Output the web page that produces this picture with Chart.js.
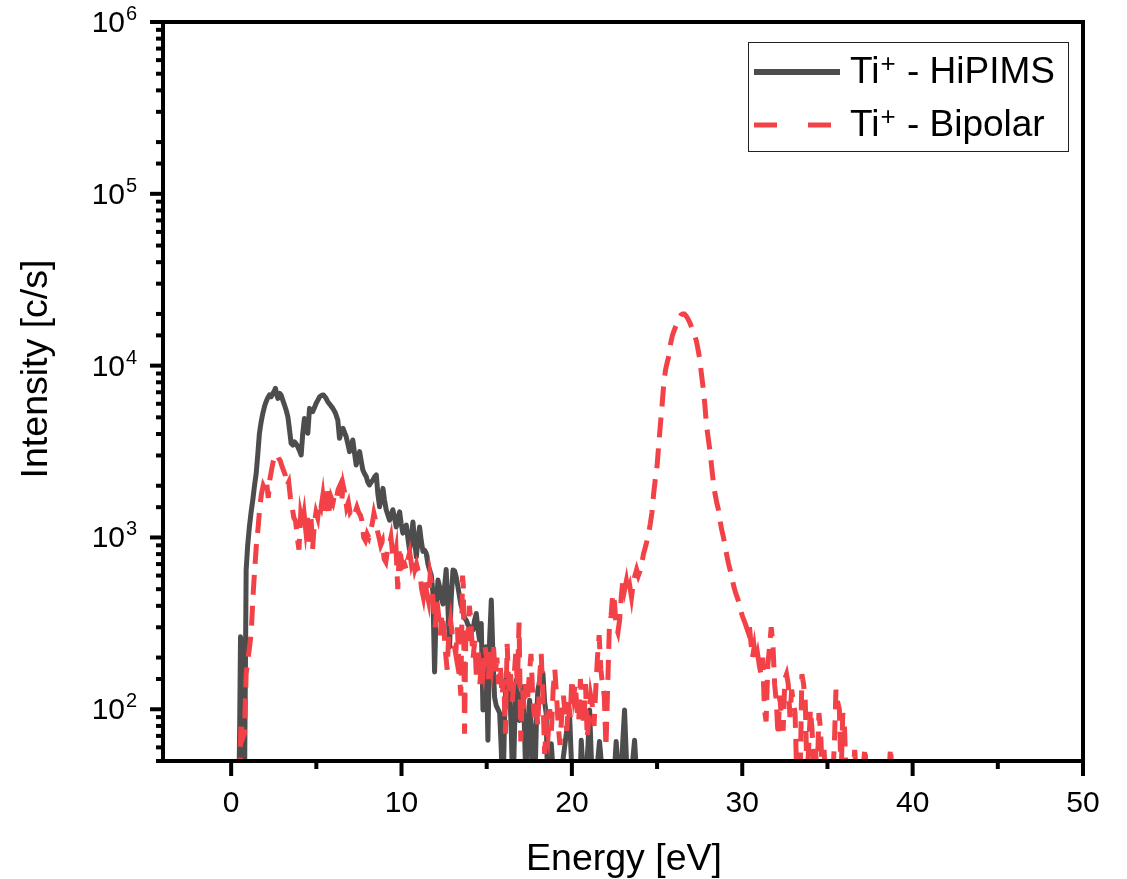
<!DOCTYPE html>
<html>
<head>
<meta charset="utf-8">
<script src="https://cdn.jsdelivr.net/npm/chart.js@4.4.1/dist/chart.umd.min.js"></script>
<style>
  html, body { margin: 0; padding: 0; background: #fff; }
  #wrap { width: 1127px; height: 879px; }
</style>
</head>
<body>
<div id="wrap"><canvas id="chart" width="1127" height="879"></canvas></div>
<script>
const FONT = "'Liberation Sans', Arial, sans-serif";

// Ti+ ion energy distribution, HiPIMS
const hipimsEnergy = [
  0.45, 0.50, 0.55, 0.60, 0.65, 0.70, 0.78, 0.88, 0.97, 1.07, 1.17, 1.27, 1.37, 1.47, 1.57, 1.66, 1.76, 1.86, 1.96, 2.05,
  2.15, 2.25, 2.35, 2.45, 2.53, 2.60, 2.67, 2.74, 2.84, 2.93, 3.03, 3.13, 3.23, 3.33, 3.43, 3.52, 3.62, 3.72, 3.82, 3.91,
  4.01, 4.11, 4.20, 4.30, 4.40, 4.50, 4.60, 4.70, 4.79, 4.89, 4.99, 5.09, 5.19, 5.30, 5.42, 5.55, 5.67, 5.82, 5.97, 6.12,
  6.26, 6.36, 6.46, 6.56, 6.65, 6.75, 6.85, 6.95, 7.04, 7.14, 7.24, 7.34, 7.44, 7.54, 7.63, 7.73, 7.83, 7.93, 8.02, 8.12,
  8.22, 8.32, 8.42, 8.52, 8.61, 8.71, 8.81, 8.91, 9.00, 9.10, 9.20, 9.30, 9.40, 9.49, 9.59, 9.69, 9.79, 9.89, 9.98, 10.08,
  10.18, 10.28, 10.38, 10.47, 10.57, 10.67, 10.77, 10.87, 10.96, 11.06, 11.16, 11.26, 11.36, 11.45, 11.55, 11.65, 11.75, 11.84, 11.94, 12.04,
  12.14, 12.23, 12.33, 12.43, 12.53, 12.62, 12.72, 12.82, 12.92, 13.02, 13.11, 13.21, 13.31, 13.41, 13.50, 13.60, 13.70, 13.80, 13.90, 14.00,
  14.10, 14.19, 14.29, 14.39, 14.49, 14.58, 14.68, 14.78, 14.88, 14.97, 15.07, 15.17, 15.27, 15.37, 15.46, 15.56, 15.66, 15.76, 15.85, 15.95,
  16.05, 16.15, 16.25, 16.35, 16.45, 16.54, 16.64, 16.74, 16.84, 16.93, 17.03, 17.13, 17.23, 17.32, 17.42, 17.52, 17.62, 17.71, 17.81, 17.91,
  18.00, 18.10, 18.20, 18.30, 18.40, 18.49, 18.59, 18.69, 18.79, 18.89, 18.98, 19.28, 19.47, 19.67, 19.86, 20.06, 20.26, 20.45, 20.55, 20.74,
  20.94, 21.04, 21.23, 21.43, 21.62, 21.92, 22.21, 22.40, 22.60, 22.80, 23.09, 23.29, 23.48, 23.68, 23.87, 24.20
];
const hipimsCounts = [
  30, 80, 264, 100, 66, 250, 30, 646, 900, 1150, 1400, 1650, 2000, 2360, 3100, 4040, 4700, 5280, 5800, 6170,
  6500, 6750, 6600, 6900, 7100, 7380, 6800, 6450, 6900, 6750, 6300, 5900, 5500, 5040, 4200, 3530, 3450, 3600, 3500, 3370,
  3200, 3020, 4000, 4930, 4600, 4040, 5640, 5500, 5400, 5700, 6040, 6300, 6590, 6700, 6750, 6500, 6170, 5900, 5640, 5300,
  4820, 3780, 4100, 4320, 4100, 3860, 3500, 3160, 3400, 3690, 3100, 2640, 2900, 3160, 2800, 2470, 2350, 2260, 2100, 2020,
  2100, 2160, 2250, 2310, 1800, 1510, 1700, 1930, 1650, 1450, 1350, 1260, 1350, 1450, 1300, 1150, 1280, 1410, 1200, 1060,
  1120, 1180, 980, 845, 1000, 1230, 950, 770, 950, 1150, 950, 830, 840, 810, 700, 646, 600, 480, 165, 400,
  565, 520, 450, 410, 520, 650, 400, 231, 450, 646, 640, 590, 517, 450, 400, 378, 340, 330, 310, 302,
  295, 289, 330, 361, 290, 253, 316, 99, 160, 231, 66, 253, 432, 200, 118, 105, 100, 95, 60, 30,
  90, 162, 150, 135, 70, 30, 80, 148, 110, 86, 110, 135, 70, 30, 70, 113, 80, 45, 30, 80,
  129, 145, 162, 162, 110, 95, 30, 50, 63, 45, 30, 30, 50, 72, 95, 30, 40, 30, 66, 30,
  60, 99, 30, 40, 65, 30, 40, 30, 65, 30, 99, 30, 40, 66, 30, 30
];

// Ti+ ion energy distribution, bipolar pulse
const bipolarEnergy = [
  0.50, 0.58, 0.68, 0.78, 0.88, 0.98, 1.08, 1.18, 1.28, 1.38, 1.48, 1.58, 1.68, 1.78, 1.88, 1.98, 2.08, 2.18, 2.28, 2.38,
  2.48, 2.58, 2.68, 2.78, 2.88, 2.98, 3.08, 3.18, 3.28, 3.38, 3.48, 3.58, 3.68, 3.78, 3.88, 3.98, 4.08, 4.18, 4.28, 4.38,
  4.48, 4.58, 4.68, 4.78, 4.88, 4.98, 5.08, 5.18, 5.28, 5.38, 5.48, 5.58, 5.68, 5.78, 5.88, 5.98, 6.08, 6.18, 6.28, 6.38,
  6.48, 6.58, 6.68, 6.78, 6.88, 6.98, 7.08, 7.18, 7.28, 7.38, 7.48, 7.58, 7.68, 7.78, 7.88, 7.98, 8.08, 8.18, 8.28, 8.38,
  8.48, 8.58, 8.68, 8.78, 8.88, 8.98, 9.08, 9.18, 9.28, 9.38, 9.48, 9.58, 9.68, 9.78, 9.88, 9.98, 10.08, 10.18, 10.28, 10.38,
  10.48, 10.58, 10.68, 10.78, 10.88, 10.98, 11.08, 11.18, 11.28, 11.38, 11.48, 11.58, 11.68, 11.78, 11.88, 11.98, 12.08, 12.18, 12.28, 12.38,
  12.48, 12.58, 12.68, 12.78, 12.88, 12.98, 13.08, 13.18, 13.28, 13.38, 13.48, 13.58, 13.63, 13.70, 13.78, 13.88, 13.98, 14.04, 14.10, 14.20,
  14.30, 14.40, 14.50, 14.60, 14.70, 14.80, 14.90, 15.00, 15.10, 15.20, 15.30, 15.40, 15.50, 15.60, 15.70, 15.80, 15.90, 16.00, 16.10, 16.20,
  16.30, 16.40, 16.50, 16.60, 16.70, 16.80, 16.90, 17.00, 17.10, 17.20, 17.30, 17.40, 17.50, 17.60, 17.70, 17.80, 17.90, 18.00, 18.10, 18.20,
  18.30, 18.40, 18.50, 18.60, 18.70, 18.80, 18.90, 19.00, 19.10, 19.20, 19.30, 19.40, 19.50, 19.60, 19.70, 19.80, 19.90, 20.00, 20.10, 20.20,
  20.30, 20.40, 20.50, 20.60, 20.70, 20.80, 20.90, 21.00, 21.10, 21.20, 21.30, 21.40, 21.50, 21.60, 21.70, 21.80, 21.90, 22.00, 22.10, 22.20,
  22.30, 22.40, 22.50, 22.60, 22.70, 22.80, 22.90, 23.00, 23.10, 23.20, 23.30, 23.40, 23.50, 23.60, 23.70, 23.80, 23.90, 24.00, 24.10, 24.20,
  24.30, 24.40, 24.50, 24.60, 24.70, 24.80, 24.90, 25.00, 25.10, 25.20, 25.30, 25.40, 25.50, 25.60, 25.70, 25.80, 25.90, 26.00, 26.10, 26.20,
  26.30, 26.40, 26.50, 26.60, 26.70, 26.80, 26.90, 27.00, 27.10, 27.20, 27.30, 27.40, 27.50, 27.60, 27.70, 27.80, 27.90, 28.00, 28.10, 28.20,
  28.30, 28.40, 28.50, 28.60, 28.70, 28.80, 28.90, 29.00, 29.10, 29.20, 29.30, 29.40, 29.50, 29.60, 29.70, 29.80, 29.90, 30.00, 30.10, 30.20,
  30.30, 30.40, 30.50, 30.60, 30.70, 30.80, 30.90, 31.00, 31.10, 31.20, 31.30, 31.40, 31.50, 31.60, 31.70, 31.80, 31.90, 32.00, 32.10, 32.20,
  32.30, 32.40, 32.50, 32.60, 32.70, 32.80, 32.90, 33.00, 33.10, 33.20, 33.30, 33.40, 33.50, 33.60, 33.70, 33.80, 33.90, 34.00, 34.10, 34.20,
  34.30, 34.40, 34.50, 34.60, 34.70, 34.80, 34.90, 35.10, 35.30, 35.40, 35.50, 35.60, 35.70, 35.80, 35.90, 36.00, 36.10, 36.30, 36.50, 36.60,
  36.70, 37.00, 37.20, 37.30, 37.60, 38.00, 38.60, 38.70, 38.80, 39.00, 40.00
];
const bipolarCounts = [
  40, 85, 68, 72, 160, 195, 230, 280, 450, 650, 900, 1130, 1500, 1800, 2000, 1900, 2100, 1700, 2200, 2500,
  2800, 3000, 3050, 2900, 2800, 2600, 2450, 2300, 2000, 2100, 1700, 1500, 1300, 1250, 1000, 850, 1350, 1200, 1380, 1100,
  1300, 900, 1350, 850, 1200, 1400, 1300, 1600, 1500, 1750, 1400, 2000, 1900, 1350, 1700, 1600, 1800, 1700, 1900, 2000,
  1600, 2000, 1800, 1500, 1600, 1400, 1450, 1350, 1400, 1500, 1400, 1350, 1250, 1000, 960, 1050, 1000, 1100, 1200, 1380,
  1250, 1100, 1000, 900, 950, 750, 720, 850, 900, 1000, 800, 750, 850, 500, 880, 750, 680, 700, 650, 750,
  820, 700, 760, 650, 700, 640, 620, 500, 450, 550, 480, 430, 600, 520, 400, 300, 430, 350, 270, 360,
  300, 215, 170, 280, 330, 270, 240, 210, 300, 170, 120, 600, 520, 72, 300, 250, 400, 350, 280, 200,
  250, 150, 230, 140, 200, 170, 230, 200, 150, 220, 180, 230, 160, 200, 140, 180, 120, 150, 72, 240,
  130, 160, 110, 150, 210, 140, 320, 65, 130, 100, 140, 115, 160, 210, 120, 90, 110, 80, 150, 210,
  120, 55, 80, 70, 100, 75, 130, 170, 120, 80, 62, 90, 120, 95, 75, 110, 90, 150, 120, 140,
  100, 85, 150, 105, 80, 140, 68, 90, 120, 105, 80, 130, 200, 270, 170, 140, 120, 60, 135, 300,
  350, 470, 420, 300, 280, 330, 450, 580, 500, 560, 480, 520, 450, 540, 600, 650, 600, 640, 700, 800,
  870, 950, 1050, 1200, 1400, 1800, 2200, 2600, 3500, 4600, 6000, 8000, 9500, 10500, 11500, 13500, 15000, 16000, 17000, 18000,
  19000, 19700, 20000, 20000, 19500, 18800, 18000, 17000, 16000, 15000, 14000, 12500, 11000, 9000, 7500, 6000, 4500, 3800, 3200, 2600,
  2100, 1800, 1600, 1450, 1250, 1100, 1000, 880, 780, 700, 640, 580, 520, 480, 450, 420, 380, 350, 330, 310,
  290, 320, 250, 200, 230, 190, 210, 180, 160, 200, 100, 85, 180, 230, 300, 240, 140, 110, 70, 120,
  90, 75, 150, 160, 140, 90, 130, 110, 95, 40, 45, 40, 160, 140, 110, 40, 60, 100, 75, 45,
  58, 40, 95, 75, 40, 58, 40, 35, 40, 60, 130, 110, 100, 40, 95, 80, 40, 35, 40, 58,
  40, 35, 60, 40, 35, 35, 40, 60, 40, 35, 30
];

const seriesNames = ['HiPIMS', 'Bipolar'];
const seriesColors = ['#4d4d4d', '#f24247'];
const xTitle = 'Energy [eV]';
const yTitle = 'Intensity [c/s]';

const toPoints = (xs, ys) => xs.map((x, i) => ({ x, y: ys[i] }));

// frame, ticks, tick labels, titles and the boxed legend
const frame = {
  id: 'frame',
  afterDraw(chart) {
    const { ctx, chartArea: a, scales: { x, y } } = chart;
    ctx.save();
    ctx.strokeStyle = '#000';
    ctx.fillStyle = '#000';
    ctx.lineWidth = 4;
    ctx.lineCap = 'butt';

    x.ticks.forEach(t => {
      if (t.value % 5 !== 0) return;
      const px = x.getPixelForValue(t.value);
      const len = t.value % 10 === 0 ? 15 : 8;
      ctx.beginPath(); ctx.moveTo(px, a.bottom); ctx.lineTo(px, a.bottom + len); ctx.stroke();
    });
    y.ticks.forEach(t => {
      const py = y.getPixelForValue(t.value);
      const major = Math.abs(Math.log10(t.value) % 1) < 1e-9;
      const len = major ? 13 : 7;
      ctx.beginPath(); ctx.moveTo(a.left, py); ctx.lineTo(a.left - len, py); ctx.stroke();
    });
    ctx.strokeRect(a.left, a.top, a.right - a.left, a.bottom - a.top);

    ctx.font = '30px ' + FONT;
    ctx.textAlign = 'center';
    ctx.textBaseline = 'alphabetic';
    x.ticks.forEach(t => {
      if (t.value % 10 !== 0) return;
      ctx.fillText(String(t.value), x.getPixelForValue(t.value), 812);
    });

    y.ticks.forEach(t => {
      const e = Math.log10(t.value);
      if (Math.abs(e - Math.round(e)) > 1e-9) return;
      const py = y.getPixelForValue(t.value);
      ctx.textAlign = 'right';
      ctx.font = '30px ' + FONT;
      ctx.fillText('10', 125, py + 10);
      ctx.textAlign = 'left';
      ctx.font = '20px ' + FONT;
      ctx.fillText(String(Math.round(e)), 126, py - 2);
    });

    ctx.font = '37.5px ' + FONT;
    ctx.textAlign = 'center';
    ctx.fillText(xTitle, (a.left + a.right) / 2 + 1, 870);
    ctx.save();
    ctx.translate(47, 369);
    ctx.rotate(-Math.PI / 2);
    ctx.fillText(yTitle, 0, 0);
    ctx.restore();

    // legend
    ctx.lineWidth = 1;
    ctx.strokeStyle = '#222';
    ctx.strokeRect(748.5, 42.5, 320, 109);
    chart.data.datasets.forEach((ds, i) => {
      const ly = 72 + i * 53;
      ctx.save();
      ctx.strokeStyle = ds.borderColor;
      ctx.lineWidth = i === 0 ? 6 : 5;
      ctx.setLineDash(i === 0 ? [] : [23, 31]);
      ctx.beginPath(); ctx.moveTo(754, ly); ctx.lineTo(840, ly); ctx.stroke();
      ctx.restore();
      const base = ly + 11;
      ctx.textAlign = 'left';
      ctx.font = '37px ' + FONT;
      let tx = 850;
      ctx.fillText('Ti', tx, base);
      tx += ctx.measureText('Ti').width + 1;
      ctx.font = '26px ' + FONT;
      ctx.fillText('+', tx, base - 11);
      tx += ctx.measureText('+').width + 1;
      ctx.font = '37px ' + FONT;
      ctx.fillText(' - ' + seriesNames[i], tx, base);
    });
    ctx.restore();
  }
};

new Chart(document.getElementById('chart'), {
  type: 'line',
  data: {
    datasets: [
      {
        label: 'Ti+ - ' + seriesNames[0],
        data: toPoints(hipimsEnergy, hipimsCounts),
        borderColor: seriesColors[0],
        borderWidth: 5,
        borderJoinStyle: 'round',
        borderCapStyle: 'round',
        order: 2
      },
      {
        label: 'Ti+ - ' + seriesNames[1],
        data: toPoints(bipolarEnergy, bipolarCounts),
        borderColor: seriesColors[1],
        borderWidth: 5,
        borderDash: [20, 11],
        borderCapStyle: 'butt',
        order: 1
      }
    ]
  },
  options: {
    responsive: false,
    animation: false,
    devicePixelRatio: 1,
    elements: { point: { radius: 0 }, line: { tension: 0 } },
    layout: { padding: { top: 22, right: 44, left: 0, bottom: 0 } },
    plugins: { legend: { display: false }, tooltip: { enabled: false } },
    scales: {
      x: {
        type: 'linear', min: -4, max: 50,
        ticks: { display: false, stepSize: 5 },
        grid: { display: false, drawTicks: false },
        border: { display: false },
        afterFit: s => { s.height = 118; }
      },
      y: {
        type: 'logarithmic', min: 50, max: 1e6,
        ticks: { display: false },
        grid: { display: false, drawTicks: false },
        border: { display: false },
        afterFit: s => { s.width = 163; }
      }
    }
  },
  plugins: [frame]
});
</script>
</body>
</html>
